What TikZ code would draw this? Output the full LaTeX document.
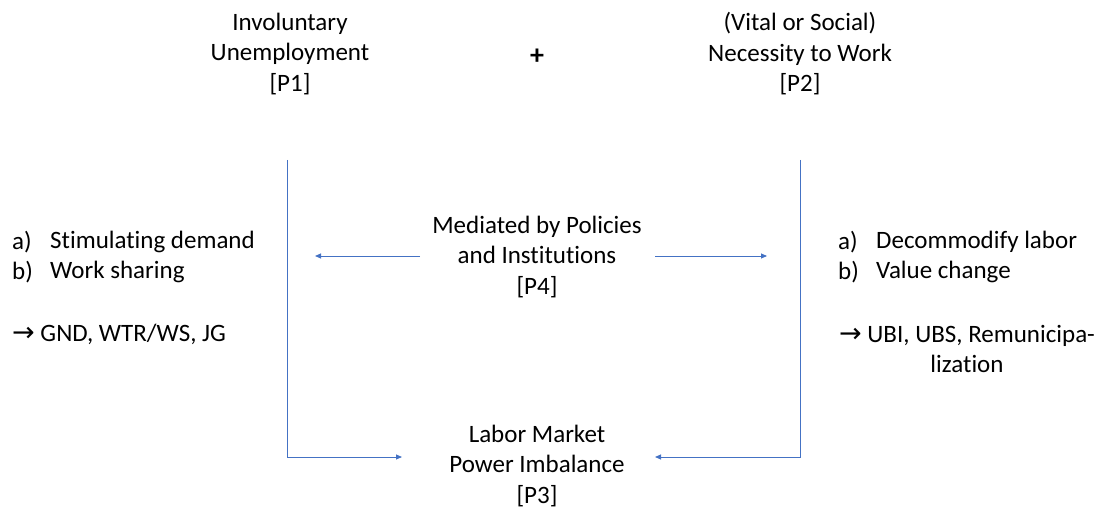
\documentclass[tikz,border=0pt]{standalone}
\usepackage{fontspec}
\setmainfont{Carlito}[RawFeature=-liga]
\newfontfamily\arrowfont{DejaVu Sans}
\usetikzlibrary{arrows.meta}
\definecolor{lineblue}{HTML}{4472C4}
\newcommand{\rarr}{{\arrowfont\fontsize{27}{30}\selectfont →}}
\tikzset{
  lbl/.style={font=\fontsize{25}{30.5}\selectfont, align=center, inner sep=0pt},
  itm/.style={font=\fontsize{25}{30.5}\selectfont, anchor=west, inner sep=0pt},
  conn/.style={draw=lineblue, line width=0.9pt},
  arr/.style={conn, -{Triangle[length=6pt,width=5pt]}}
}
\begin{document}
\begin{tikzpicture}[x=1pt,y=-1pt]
\useasboundingbox (0,0) rectangle (1101,508);
\node[lbl] (p1) at (290,54) {Involuntary\\Unemployment\\{[P1]}};
\node[lbl, font=\fontsize{28}{30}\selectfont\bfseries] (plus) at (537,57) {+};
\node[lbl] (p2) at (800,54) {(Vital or Social)\\Necessity to Work\\{[P2]}};
\node[lbl] (p4) at (537,257) {Mediated by Policies\\and Institutions\\{[P4]}};
\node[lbl] (p3) at (537,466) {Labor Market\\Power Imbalance\\{[P3]}};
% left list
\node[itm] (la) at (12,242) {a)};
\node[itm] (lat) at (50,242) {Stimulating demand};
\node[itm] (lb) at (12,272) {b)};
\node[itm] (lbt) at (50,272) {Work sharing};
\node[itm] (lc) at (12,334) {\rarr\ GND, WTR/WS, JG};
% right list
\node[itm] (ra) at (838,242) {a)};
\node[itm] (rat) at (876,242) {Decommodify labor};
\node[itm] (rb) at (838,272) {b)};
\node[itm] (rbt) at (876,272) {Value change};
\node[lbl] (rc) at (967,349) {\rarr\ UBI, UBS, Remunicipa-\\lization};
% coordinates
\coordinate (l1) at (287,160);
\coordinate (l2) at (287,457);
\coordinate (r1) at (800,160);
\coordinate (r2) at (800,457);
\coordinate (m1) at (420,256);
\coordinate (m2) at (315,256);
\coordinate (m3) at (655,256);
\coordinate (m4) at (767,256);
\coordinate (e1) at (402,457);
\coordinate (e2) at (655,457);
\draw[arr] (l1) -- (l2) -- (e1);
\draw[arr] (r1) -- (r2) -- (e2);
\draw[arr] (m1) -- (m2);
\draw[arr] (m3) -- (m4);
\end{tikzpicture}
\end{document}
